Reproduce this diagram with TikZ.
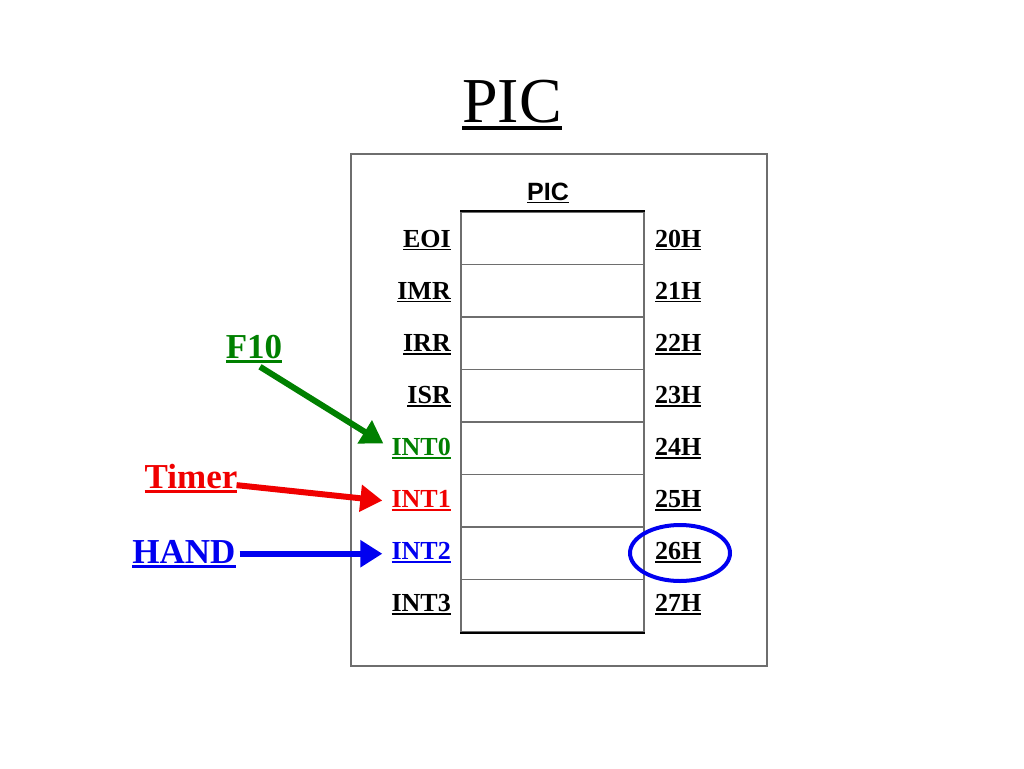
\documentclass[tikz,border=0pt]{standalone}
\usepackage{fontspec}
\setmainfont{Liberation Serif}
\newfontfamily\sansfnt{Liberation Sans}
\usetikzlibrary{arrows.meta,shapes.geometric}
\definecolor{pgreen}{RGB}{0,128,0}
\definecolor{pred}{RGB}{240,0,0}
\definecolor{pblue}{RGB}{0,0,240}
\definecolor{lgray}{RGB}{110,110,110}
\newcommand\myul[1]{\setbox0\hbox{#1}\leavevmode\rlap{\rule[-0.13em]{\wd0}{0.065em}}\box0}
\begin{document}
\begin{tikzpicture}[x=1pt,y=-1pt,
  titlefnt/.style={font=\fontsize{64}{70}\selectfont, inner sep=0pt},
  lab/.style={font=\fontsize{26}{30}\selectfont\bfseries, inner sep=0pt},
  biglab/.style={font=\fontsize{35}{40}\selectfont\bfseries, inner sep=0pt},
  cell/.style={draw=lgray, line width=1.3pt, minimum width=183pt, minimum height=52.5pt, inner sep=0pt},
  fat/.style={line width=6pt, -{Triangle[length=22pt,width=26pt]}}
]
\useasboundingbox (0,0) rectangle (1024,768);
\node[titlefnt, anchor=base] (title) at (512,122) {\myul{PIC}};
\node[draw=lgray, line width=1.3pt, minimum width=416pt, minimum height=512pt, inner sep=0pt] (frame) at (559,410) {};
\node[inner sep=0pt, anchor=base, font=\fontsize{25}{30}\selectfont\sansfnt\bfseries] (pic) at (548,200) {\myul{PIC}};
\foreach \i in {1,...,8} {
  \node[cell] (r\i) at (552.5,{212+52.5*(\i-0.5)}) {};
}
\draw[line width=2pt] (r1.north west) -- (r1.north east);
\draw[line width=2pt] (r8.south west) -- (r8.south east);
\foreach \t/\h [count=\i from 0] in {EOI/20H,IMR/21H,IRR/22H,ISR/23H} {
  \node[lab, anchor=base east] (L\t) at (451,{247+52.1*\i}) {\myul{\t}};
  \node[lab, anchor=base west] (R\h) at (655,{247+52.1*\i}) {\myul{\h}};
}
\node[lab, anchor=base east, text=pgreen] (int0) at (451,{247+52.1*4}) {\myul{INT0}};
\node[lab, anchor=base east, text=pred] (int1) at (451,{247+52.1*5}) {\myul{INT1}};
\node[lab, anchor=base east, text=pblue] (int2) at (451,{247+52.1*6}) {\myul{INT2}};
\node[lab, anchor=base east] (int3) at (451,{247+52.1*7}) {\myul{INT3}};
\node[lab, anchor=base west] (h24) at (655,{247+52.1*4}) {\myul{24H}};
\node[lab, anchor=base west] (h25) at (655,{247+52.1*5}) {\myul{25H}};
\node[lab, anchor=base west] (h26) at (655,{247+52.1*6}) {\myul{26H}};
\node[lab, anchor=base west] (h27) at (655,{247+52.1*7}) {\myul{27H}};
\node[draw=pblue, ellipse, line width=4pt, minimum width=100pt, minimum height=56pt, inner sep=0pt] (circ) at (680,553) {};
\node[biglab, anchor=base, text=pgreen] (f10) at (254,358) {\myul{F10}};
\node[biglab, anchor=base, text=pred] (timer) at (191,488) {\myul{Timer}};
\node[biglab, anchor=base, text=pblue] (hand) at (184,563) {\myul{HAND}};
\draw[fat, pgreen] ([shift={(6,4)}]f10.south) -- ([shift={(-8,-5)}]int0.west);
\draw[fat, pred] ([shift={(-1,7)}]timer.east) -- ([shift={(-9,0)}]int1.west);
\draw[fat, pblue] ([shift={(4,0)}]hand.east) -- ([xshift=-9pt]int2.west |- hand.east);
\end{tikzpicture}
\end{document}
